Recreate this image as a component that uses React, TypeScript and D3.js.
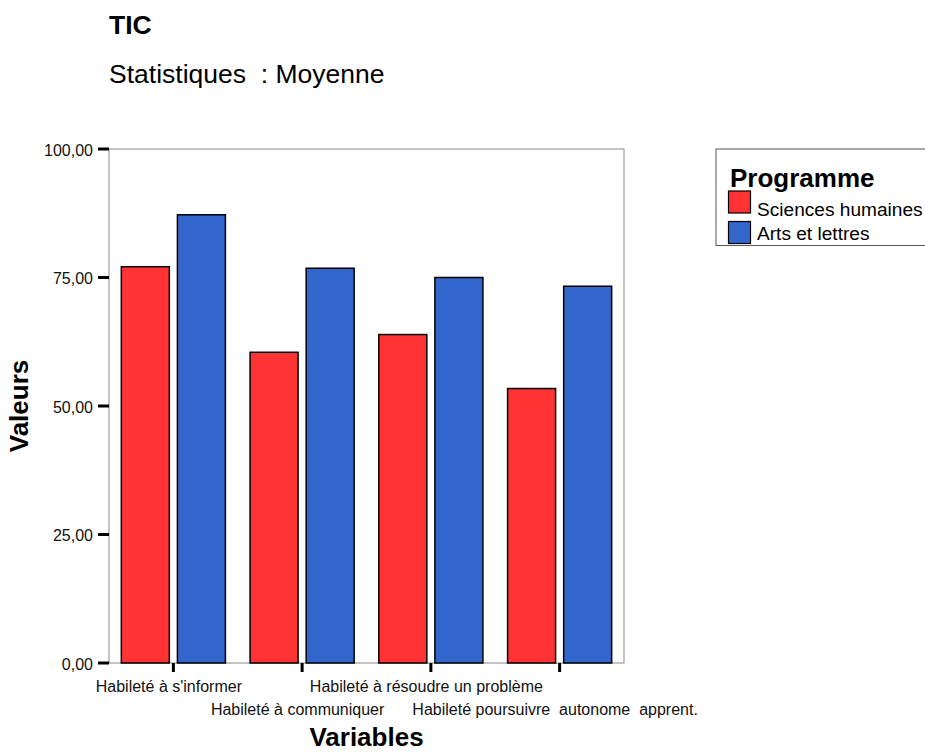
import React from "react";
import * as d3 from "d3";

const categories = [
  "Habileté à s'informer",
  "Habileté à communiquer",
  "Habileté à résoudre un problème",
  "Habileté poursuivre  autonome  apprent.",
];
const seriesNames = ["Sciences humaines", "Arts et lettres"];
const sciencesHumaines = [77.1, 60.45, 63.9, 53.4];
const artsLettres = [87.2, 76.8, 75.0, 73.3];
const yTicks = [0, 25, 50, 75, 100];
const colors = ["#FF3333", "#3366CC"];

const FONT = "'Liberation Sans', Arial, Helvetica, sans-serif";

export default function App() {
  const W = 925;
  const H = 752;
  const left = 109, right = 624, top = 149, bottom = 663;
  const x0 = d3.scaleBand<string>().domain(categories).range([left, right]).padding(0);
  const x1 = d3
    .scaleBand<string>()
    .domain(seriesNames)
    .range([0, x0.bandwidth()])
    .paddingInner(0.144)
    .paddingOuter(0.22);
  const y = d3.scaleLinear().domain([0, 100]).range([bottom, top]);
  const fmt = (v: number) => d3.format(".2f")(v).replace(".", ",");
  const data = [sciencesHumaines, artsLettres];

  return (
    <svg
      width={W}
      height={H}
      style={{ position: "absolute", left: 0, top: 0, background: "#fff" }}
      fontFamily={FONT}
    >
      <rect x={0} y={0} width={W} height={H} fill="#fff" />
      {/* titles */}
      <text x={109} y={33.5} fontSize={26.5} fontWeight="bold" fill="#000">TIC</text>
      <text x={109} y={83} fontSize={26.5} fill="#000" style={{ whiteSpace: "pre" }}>
        {"Statistiques  : Moyenne"}
      </text>

      {/* plot frame */}
      <rect x={left} y={top} width={right - left} height={bottom - top} fill="none" stroke="#888" strokeWidth={1} />

      {/* bars */}
      {categories.map((c, i) =>
        seriesNames.map((s, j) => (
          <rect
            key={c + s}
            x={(x0(c) as number) + (x1(s) as number)}
            y={y(data[j][i])}
            width={x1.bandwidth()}
            height={y(0) - y(data[j][i])}
            fill={colors[j]}
            stroke="#000"
            strokeWidth={1.5}
          />
        ))
      )}

      {/* y axis ticks */}
      {yTicks.map((t) => (
        <g key={t}>
          <line x1={98} x2={109} y1={y(t)} y2={y(t)} stroke="#000" strokeWidth={3} />
          <text x={93} y={y(t) + 6.5} fontSize={16} textAnchor="end" fill="#111">
            {fmt(t)}
          </text>
        </g>
      ))}

      {/* x axis ticks and labels */}
      {categories.map((c, i) => {
        const cx = (x0(c) as number) + x0.bandwidth() / 2;
        return (
          <g key={c}>
            <line x1={cx} x2={cx} y1={bottom} y2={672} stroke="#000" strokeWidth={3} />
            <text
              x={cx - 4.5}
              y={i % 2 === 0 ? 692 : 714.5}
              fontSize={16}
              textAnchor="middle"
              fill="#111"
              style={{ whiteSpace: "pre" }}
            >
              {c}
            </text>
          </g>
        );
      })}

      {/* axis titles */}
      <text x={(left + right) / 2} y={746} fontSize={26} fontWeight="bold" textAnchor="middle" fill="#000">
        Variables
      </text>
      <text
        transform={`translate(27.5, ${(top + bottom) / 2}) rotate(-90)`}
        fontSize={26}
        fontWeight="bold"
        textAnchor="middle"
        fill="#000"
      >
        Valeurs
      </text>

      {/* legend */}
      <rect x={716} y={149} width={230} height={96.5} fill="#fff" stroke="#555" strokeWidth={1} />
      <text x={730} y={186.5} fontSize={26} fontWeight="bold" fill="#000">Programme</text>
      {seriesNames.map((s, j) => (
        <g key={s}>
          <rect x={728.5} y={191 + j * 30.5} width={22} height={22} fill={colors[j]} stroke="#000" strokeWidth={1.2} />
          <text x={757} y={216 + j * 24} fontSize={19.1} fill="#000">{s}</text>
        </g>
      ))}
    </svg>
  );
}
